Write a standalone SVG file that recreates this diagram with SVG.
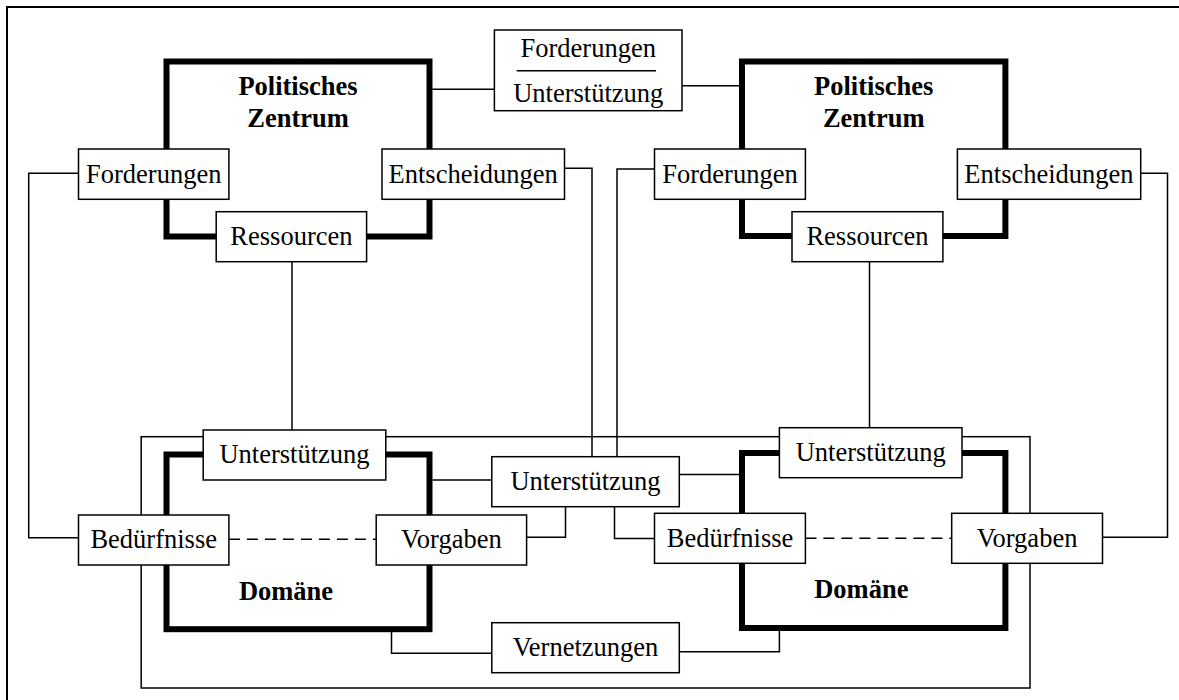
<svg xmlns="http://www.w3.org/2000/svg" width="1179" height="700" viewBox="0 0 1179 700">
<style>
.frame{fill:none;stroke:#000;stroke-width:2}
.thick{fill:none;stroke:#000;stroke-width:6}
.box{fill:#fff;stroke:#000;stroke-width:1.5}
.ln{fill:none;stroke:#000;stroke-width:1.5}
.dash{fill:none;stroke:#000;stroke-width:1.5;stroke-dasharray:11 7}
text{font-size:26.5px;fill:#000;text-anchor:middle}
.b{font-weight:bold}
</style>
<rect width="1179" height="700" fill="#fff"/>
<rect class="frame" x="7" y="7" width="1200" height="720"/>

<g id="connectors">
<rect class="ln" x="141.2" y="436.7" width="888.8" height="251.3"/>
<line class="ln" x1="432" y1="89.3" x2="494.4" y2="89.3"/>
<line class="ln" x1="682" y1="85.7" x2="739" y2="85.7"/>
<line class="ln" x1="292" y1="261.7" x2="292" y2="430"/>
<line class="ln" x1="869.5" y1="261.7" x2="869.5" y2="427.7"/>
<polyline class="ln" points="78.5,173.3 28.7,173.3 28.7,537.7 78.5,537.7"/>
<polyline class="ln" points="564.5,168.3 592,168.3 592,456.7"/>
<polyline class="ln" points="654.5,169 617,169 617,456.7"/>
<polyline class="ln" points="1140.7,173.3 1167.5,173.3 1167.5,537.3 1102.5,537.3"/>
<line class="ln" x1="432.5" y1="480" x2="491.8" y2="480"/>
<line class="ln" x1="679.3" y1="474.5" x2="739.3" y2="474.5"/>
<polyline class="ln" points="565.5,506.7 565.5,537.3 526.6,537.3"/>
<polyline class="ln" points="614.5,506.7 614.5,538.5 654.5,538.5"/>
<polyline class="ln" points="391.5,632 391.5,653.3 491.8,653.3"/>
<polyline class="ln" points="679.3,651.7 779.4,651.7 779.4,631"/>
<line class="dash" x1="228.9" y1="539.3" x2="376.2" y2="539.3"/>
<line class="dash" x1="805.4" y1="538.3" x2="951.7" y2="538.3"/>
</g>

<g font-family="Liberation Serif, serif">
<g id="pz-left">
<rect class="thick" x="166.5" y="61.5" width="263" height="175"/>
<text class="b" x="298" y="95">Politisches</text>
<text class="b" x="298" y="126.7">Zentrum</text>
</g>
<g id="pz-right">
<rect class="thick" x="742" y="61.5" width="263.4" height="174.5"/>
<text class="b" x="873.7" y="95">Politisches</text>
<text class="b" x="873.7" y="126.7">Zentrum</text>
</g>
<g id="dom-left">
<rect class="thick" x="166.5" y="454.5" width="263" height="174.7"/>
<text class="b" x="286" y="600">Domäne</text>
</g>
<g id="dom-right">
<rect class="thick" x="742" y="453" width="263.4" height="175"/>
<text class="b" x="861.3" y="598.3">Domäne</text>
</g>

<g id="top-box">
<rect class="box" x="494.4" y="30" width="187.6" height="80.7"/>
<text x="588.2" y="56.7">Forderungen</text>
<line class="ln" x1="516.7" y1="70.7" x2="656" y2="70.7"/>
<text x="588.2" y="101.7">Unterstützung</text>
</g>

<g id="forderungen-l"><rect class="box" x="78.5" y="149" width="150.4" height="50.3"/><text x="153.7" y="182.7">Forderungen</text></g>
<g id="entscheidungen-l"><rect class="box" x="382" y="149" width="182.5" height="50.3"/><text x="473.2" y="182.7">Entscheidungen</text></g>
<g id="ressourcen-l"><rect class="box" x="216.2" y="211.7" width="150.4" height="50"/><text x="291.4" y="245">Ressourcen</text></g>

<g id="forderungen-r"><rect class="box" x="654.5" y="149" width="150.9" height="50.3"/><text x="730" y="182.7">Forderungen</text></g>
<g id="entscheidungen-r"><rect class="box" x="957.4" y="149" width="183.3" height="50.3"/><text x="1049" y="182.7">Entscheidungen</text></g>
<g id="ressourcen-r"><rect class="box" x="792" y="211.7" width="150.9" height="50"/><text x="867.5" y="245">Ressourcen</text></g>

<g id="unterstuetzung-l"><rect class="box" x="203.2" y="430" width="182.6" height="50"/><text x="294.5" y="463.3">Unterstützung</text></g>
<g id="beduerfnisse-l"><rect class="box" x="78.5" y="515" width="150.4" height="50"/><text x="153.7" y="548.3">Bedürfnisse</text></g>
<g id="vorgaben-l"><rect class="box" x="376.2" y="515" width="150.4" height="50"/><text x="451.4" y="548.3">Vorgaben</text></g>

<g id="unterstuetzung-c"><rect class="box" x="491.8" y="456.7" width="187.5" height="50"/><text x="585.5" y="490">Unterstützung</text></g>
<g id="vernetzungen"><rect class="box" x="491.8" y="622.7" width="187.5" height="50"/><text x="585.5" y="656">Vernetzungen</text></g>

<g id="unterstuetzung-r"><rect class="box" x="779.4" y="427.7" width="182.6" height="50"/><text x="870.7" y="461">Unterstützung</text></g>
<g id="beduerfnisse-r"><rect class="box" x="654.5" y="513.3" width="150.9" height="50"/><text x="730" y="546.6">Bedürfnisse</text></g>
<g id="vorgaben-r"><rect class="box" x="951.7" y="513.3" width="150.8" height="50"/><text x="1027.1" y="546.6">Vorgaben</text></g>
</g>
</svg>
